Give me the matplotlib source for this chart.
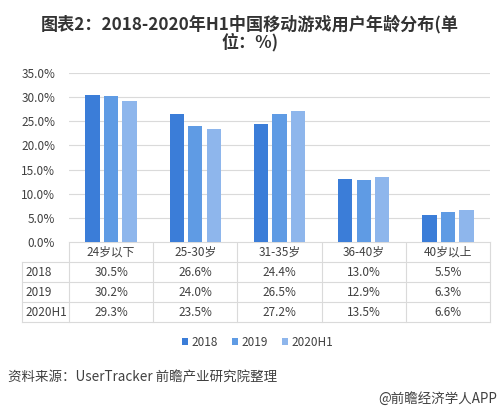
import matplotlib
matplotlib.use("Agg")
import matplotlib.pyplot as plt
import numpy as np

plt.rcParams['font.family'] = ['Noto Sans CJK SC', 'DejaVu Sans']

categories = ["24岁以下", "25-30岁", "31-35岁", "36-40岁", "40岁以上"]
series_names = ["2018", "2019", "2020H1"]
v2018 = [30.5, 26.6, 24.4, 13.0, 5.5]
v2019 = [30.2, 24.0, 26.5, 12.9, 6.3]
v2020 = [29.3, 23.5, 27.2, 13.5, 6.6]
yticks = [0, 5, 10, 15, 20, 25, 30, 35]

series = [v2018, v2019, v2020]
colors = ["#3b7dd8", "#5f9be4", "#8eb6ec"]
text_color = "#404040"
line_color = "#dadada"

W, H = 500, 411
fig = plt.figure(figsize=(W / 100, H / 100), dpi=100)

ax_l, ax_r, ax_t, ax_b = 69, 490, 73, 242
ax = fig.add_axes([ax_l / W, 1 - ax_b / H, (ax_r - ax_l) / W, (ax_b - ax_t) / H])

x = np.arange(len(categories))
offs = [-0.22, 0.0, 0.22]
for s, vals, c, o in zip(series_names, series, colors, offs):
    ax.bar(x + o, vals, width=0.17, color=c, label=s, zorder=3)

ax.set_xlim(-0.5, len(categories) - 0.5)
ax.set_ylim(0, 35)
ax.set_yticks(yticks)
ax.set_yticklabels([f"{t:.1f}%" for t in yticks], fontsize=8.5, color=text_color)
ax.tick_params(axis='y', length=0, pad=10)
ax.set_xticks([])
for sp in ax.spines.values():
    sp.set_visible(False)
ax.yaxis.grid(True, color=line_color, linewidth=0.8, zorder=0)

# Table
tab_left = 22
row_h = 20
col_w = (ax_r - ax_l) / len(categories)
fig_ax = fig.add_axes([0, 0, 1, 1], zorder=-1)
fig_ax.set_xlim(0, W)
fig_ax.set_ylim(H, 0)
fig_ax.axis('off')

top = ax_b
n_rows = 1 + len(series)
bottom = top + n_rows * row_h
lw = 0.8
fig_ax.plot([ax_l, ax_r], [top, top], color=line_color, lw=lw)
for r in range(1, n_rows + 1):
    y = top + r * row_h
    fig_ax.plot([tab_left, ax_r], [y, y], color=line_color, lw=lw)
fig_ax.plot([tab_left, tab_left], [top + row_h, bottom], color=line_color, lw=lw)
for c in range(len(categories) + 1):
    xx = ax_l + c * col_w
    fig_ax.plot([xx, xx], [top, bottom], color=line_color, lw=lw)

for c, cat in enumerate(categories):
    fig_ax.text(ax_l + (c + 0.5) * col_w, top + row_h / 2, cat, ha='center', va='center',
                fontsize=8.5, color=text_color)
for r, (s, vals) in enumerate(zip(series_names, series)):
    yc = top + (r + 1.5) * row_h
    fig_ax.text(tab_left + 3, yc, s, ha='left', va='center', fontsize=8.5, color=text_color)
    for c, v in enumerate(vals):
        fig_ax.text(ax_l + (c + 0.5) * col_w, yc, f"{v:.1f}%", ha='center', va='center',
                    fontsize=8.5, color=text_color)

# Legend
handles, labels = ax.get_legend_handles_labels()
fig.legend(handles, labels, loc='center', bbox_to_anchor=(258 / W, 1 - 342 / H), ncol=3,
           frameon=False, fontsize=8.5, handlelength=0.5, handleheight=0.5,
           handletextpad=0.3, columnspacing=1.2, labelcolor=text_color)

# Title
fig.text(0.5, 1 - 24 / H, "图表2：2018-2020年H1中国移动游戏用户年龄分布(单", ha='center', va='center',
         fontsize=12.3, fontweight='bold', color="#333333")
fig.text(0.5, 1 - 42 / H, "位：%)", ha='center', va='center',
         fontsize=12.3, fontweight='bold', color="#333333")

fig.text(8 / W, 1 - 378 / H, "资料来源：UserTracker 前瞻产业研究院整理", ha='left', va='center',
         fontsize=9.7, color=text_color)
fig.text(497 / W, 1 - 399 / H, "@前瞻经济学人APP", ha='right', va='center',
         fontsize=9.7, color=text_color)

fig.savefig("out.png", dpi=100, facecolor='white')
